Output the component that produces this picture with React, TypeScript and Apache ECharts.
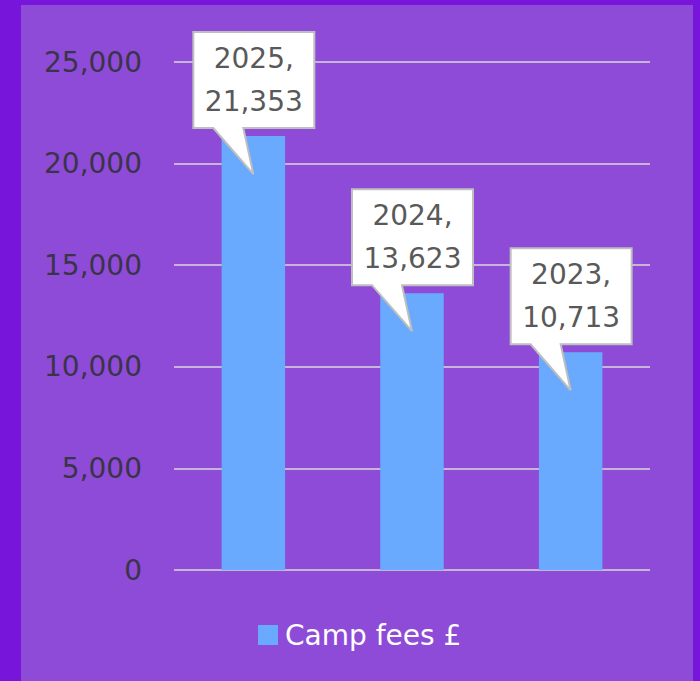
import React, { useEffect, useRef } from "react";
import * as echarts from "echarts";

const categories: string[] = ["2025", "2024", "2023"];
const campFees: number[] = [21353, 13623, 10713];
const seriesName = "Camp fees £";
const yMin = 0;
const yMax = 25000;
const yInterval = 5000;

const FONT = "'DejaVu Sans', sans-serif";

export default function App() {
  const ref = useRef<HTMLDivElement>(null);
  useEffect(() => {
    if (!ref.current) return;
    const chart = echarts.init(ref.current, undefined, { renderer: "svg" });
    const fmt = (v: number) => v.toLocaleString("en-US");
    chart.setOption({
      animation: false,
      backgroundColor: "#7715DB",
      textStyle: { fontFamily: FONT },
      graphic: [
        {
          type: "rect",
          z: -10,
          shape: { x: 21, y: 5, width: 672, height: 680 },
          style: { fill: "#8E4BD7" },
          silent: true,
        },
      ],
      grid: { left: 174, right: 50, top: 62, bottom: 111, containLabel: false },
      legend: {
        left: 253,
        top: 616,
        icon: "rect",
        itemWidth: 20,
        itemHeight: 20,
        itemGap: 10,
        textStyle: {
          color: "#FFFFFF",
          fontSize: 28,
          fontFamily: FONT,
          padding: [0, 0, 0, 2],
        },
        data: [seriesName],
      },
      xAxis: {
        type: "category",
        data: categories,
        axisLine: { show: false },
        axisTick: { show: false },
        axisLabel: { show: false },
      },
      yAxis: {
        type: "value",
        min: yMin,
        max: yMax,
        interval: yInterval,
        axisLine: { show: false },
        axisTick: { show: false },
        axisLabel: {
          color: "#3A3448",
          fontSize: 28,
          fontFamily: FONT,
          margin: 32,
          formatter: (v: number) => fmt(v),
        },
        splitLine: { lineStyle: { color: "#D9D9D9", width: 1.5 } },
      },
      series: [
        {
          name: seriesName,
          type: "bar",
          data: campFees,
          barWidth: "40%",
          itemStyle: { color: "#69AAFF" },
        },
        {
          type: "custom",
          z: 10,
          clip: false,
          data: categories.map((c, i) => [i, campFees[i]]),
          renderItem: (params: any, api: any) => {
            const idx = api.value(0);
            const val = api.value(1);
            const p = api.coord([idx, val]);
            const cx = p[0];
            const top = p[1];
            const boxL = cx - 60;
            const boxR = cx + 61;
            const boxT = top - 104;
            const boxB = top - 8;
            const tipX = cx;
            const tipY = top + 38;
            const points = [
              [boxL, boxT],
              [boxR, boxT],
              [boxR, boxB],
              [cx - 10, boxB],
              [tipX, tipY],
              [cx - 40, boxB],
              [boxL, boxB],
            ];
            return {
              type: "group",
              children: [
                {
                  type: "polygon",
                  shape: { points },
                  style: { fill: "#FFFFFF", stroke: "#BFBFBF", lineWidth: 2 },
                },
                {
                  type: "text",
                  style: {
                    text: categories[idx] + ",\n" + fmt(val),
                    x: (boxL + boxR) / 2,
                    y: (boxT + boxB) / 2,
                    align: "center",
                    verticalAlign: "middle",
                    fontSize: 28,
                    lineHeight: 43,
                    fontFamily: FONT,
                    fill: "#595959",
                  },
                },
              ],
            };
          },
        },
      ],
    });
    return () => chart.dispose();
  }, []);
  return (
    <div
      ref={ref}
      style={{ position: "fixed", left: 0, top: 0, width: 700, height: 681 }}
    />
  );
}
